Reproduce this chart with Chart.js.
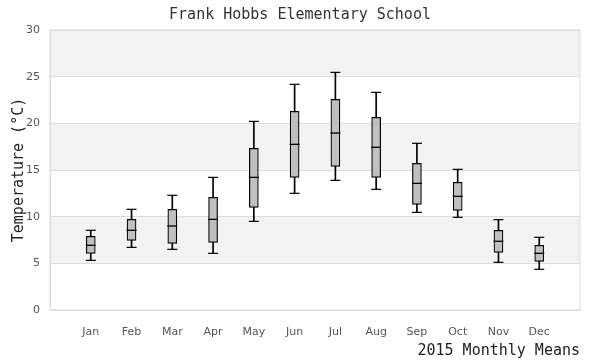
<!DOCTYPE html>
<html>
<head>
<meta charset="utf-8">
<script src="https://cdn.jsdelivr.net/npm/chart.js@4/dist/chart.umd.min.js"></script>
<style>
  html, body { margin: 0; padding: 0; background: #fff; }
  #wrap { width: 600px; height: 360px; }
</style>
</head>
<body>
<div id="wrap"><canvas id="boxChart"></canvas></div>
<script>
var months = ["Jan","Feb","Mar","Apr","May","Jun","Jul","Aug","Sep","Oct","Nov","Dec"];
var mins    = [5.32, 6.71, 6.50, 6.07,  9.50, 12.50, 13.89, 12.93, 10.46,  9.93, 5.11, 4.36];
var q1      = [6.07, 7.46, 7.14, 7.25, 11.00, 14.21, 15.39, 14.21, 11.32, 10.68, 6.18, 5.21];
var medians = [6.93, 8.54, 9.00, 9.71, 14.21, 17.75, 18.96, 17.43, 13.57, 12.18, 7.36, 6.07];
var q3      = [7.89, 9.71,10.79,12.07, 17.32, 21.29, 22.57, 20.64, 15.71, 13.68, 8.54, 6.93];
var maxs    = [8.54,10.79,12.29,14.21, 20.21, 24.18, 25.46, 23.32, 17.86, 15.07, 9.68, 7.79];
var yTicks  = [0, 5, 10, 15, 20, 25, 30];

function pts(arr) {
  return arr.map(function (v, i) { return { x: i + 1, y: v }; });
}
function ranges(lo, hi) {
  return lo.map(function (v, i) { return { x: i + 1, y: [v, hi[i]] }; });
}

// alternating grey bands and a frame round the plot area
var bands = {
  id: 'bands',
  beforeDraw: function (chart) {
    var ctx = chart.ctx, a = chart.chartArea, y = chart.scales.y;
    ctx.save();
    ctx.fillStyle = '#f3f3f3';
    for (var v = 5; v < 30; v += 10) {
      var top = y.getPixelForValue(v + 5), bot = y.getPixelForValue(v);
      ctx.fillRect(a.left, top, a.right - a.left, bot - top);
    }
    ctx.restore();
  },
  beforeDatasetsDraw: function (chart) {
    var ctx = chart.ctx, a = chart.chartArea;
    ctx.save();
    ctx.strokeStyle = '#dddddd';
    ctx.lineWidth = 1;
    ctx.strokeRect(a.left, a.top, a.right - a.left, a.bottom - a.top);
    ctx.restore();
  }
};

var ctx = document.getElementById('boxChart').getContext('2d');

var boxChart = new Chart(ctx, {
  type: 'bar',
  data: {
    datasets: [
      {
        type: 'line', data: pts(medians), showLine: false,
        pointStyle: 'line', pointRadius: 5, pointBorderWidth: 1.3,
        borderColor: '#000', backgroundColor: '#000'
      },
      {
        data: ranges(q1, q3), grouped: false, barThickness: 9,
        backgroundColor: '#c0c0c0', borderColor: '#000',
        borderWidth: 1.2, borderSkipped: false
      },
      {
        type: 'line', data: pts(maxs), showLine: false,
        pointStyle: 'line', pointRadius: 5, pointBorderWidth: 1.2,
        borderColor: '#000', backgroundColor: '#000'
      },
      {
        type: 'line', data: pts(mins), showLine: false,
        pointStyle: 'line', pointRadius: 5, pointBorderWidth: 1.2,
        borderColor: '#000', backgroundColor: '#000'
      },
      {
        data: ranges(mins, maxs), grouped: false, barThickness: 1,
        backgroundColor: '#000', borderWidth: 0
      }
    ]
  },
  options: {
    responsive: true,
    maintainAspectRatio: false,
    animation: false,
    layout: { padding: 0 },
    plugins: {
      legend: { display: false },
      tooltip: { enabled: false },
      title: {
        display: true,
        text: 'Frank Hobbs Elementary School',
        color: '#333',
        font: { family: 'DejaVu Sans Mono', size: 15, weight: 'normal' },
        padding: { top: 6, bottom: 6 }
      }
    },
    scales: {
      x: {
        type: 'linear',
        offset: false,
        min: 0,
        max: 13,
        afterBuildTicks: function (axis) {
          axis.ticks = months.map(function (m, i) { return { value: i + 1 }; });
        },
        afterFit: function (axis) { axis.height = 50; },
        grid: { display: false },
        border: { color: '#dddddd' },
        ticks: {
          autoSkip: false,
          maxRotation: 0,
          padding: 8,
          color: '#555',
          font: { family: 'DejaVu Sans', size: 11 },
          callback: function (v) { return months[v - 1] || ''; }
        },
        title: {
          display: true,
          text: '2015 Monthly Means',
          align: 'end',
          color: '#222',
          font: { family: 'DejaVu Sans Mono', size: 15 },
          padding: { top: 0, bottom: 0 }
        }
      },
      y: {
        min: 0,
        max: 30,
        afterBuildTicks: function (axis) {
          axis.ticks = yTicks.map(function (v) { return { value: v }; });
        },
        afterFit: function (axis) { axis.width = 50; },
        grid: { color: '#dddddd', drawTicks: false },
        border: { color: '#dddddd' },
        ticks: {
          padding: 10,
          color: '#555',
          font: { family: 'DejaVu Sans', size: 11 }
        },
        title: {
          display: true,
          text: 'Temperature (°C)',
          color: '#222',
          font: { family: 'DejaVu Sans Mono', size: 15 },
          padding: { top: 10, bottom: 0 }
        }
      },
      // empty right-hand axis, only to leave the margin
      yRight: {
        position: 'right',
        min: 0,
        max: 30,
        afterFit: function (axis) { axis.width = 20; },
        grid: { display: false },
        border: { display: false },
        ticks: { display: false }
      }
    }
  },
  plugins: [bands]
});
</script>
</body>
</html>
